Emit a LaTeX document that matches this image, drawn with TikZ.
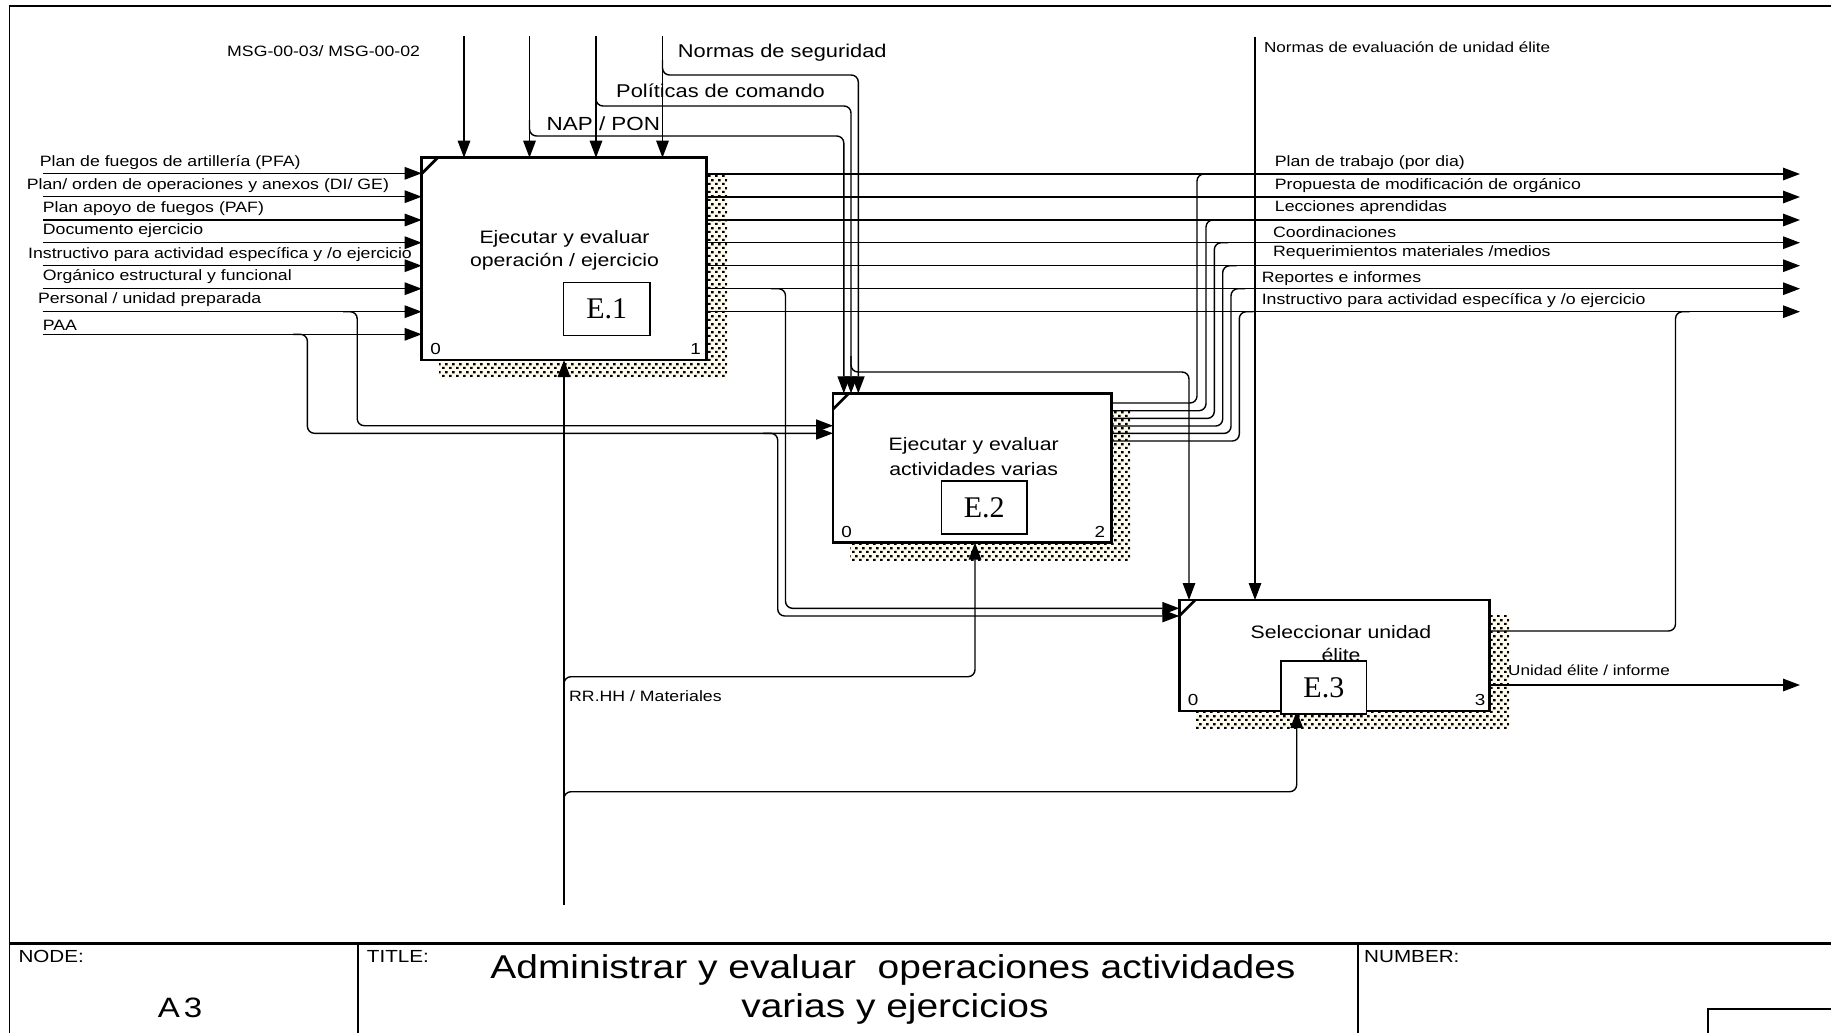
\documentclass[tikz,border=0pt]{standalone}
\usepackage{fontspec}
\setmainfont{Liberation Sans}[FakeStretch=1.18]
\newfontfamily\refserif{Liberation Serif}
\usetikzlibrary{arrows.meta,patterns}
\newcommand\fsz[1]{\fontsize{#1}{#1}\selectfont}
\definecolor{shadebg}{RGB}{255,251,236}
% checkered dot fill used for the box shadows
\pgfdeclarepatternformonly{idefdots}{\pgfqpoint{0pt}{0pt}}{\pgfqpoint{6.5pt}{8pt}}{\pgfqpoint{6.5pt}{8pt}}{%
  \pgfpathrectangle{\pgfqpoint{0pt}{0pt}}{\pgfqpoint{2.7pt}{2.5pt}}%
  \pgfpathrectangle{\pgfqpoint{3.25pt}{4pt}}{\pgfqpoint{2.7pt}{2.5pt}}%
  \pgfusepath{fill}}
\tikzset{
  actbox/.style={draw, line width=2.7pt, fill=white, inner sep=0pt, outer sep=0pt},
  refbox/.style={draw, line width=1.5pt, fill=white, inner sep=0pt, font=\refserif\fsz{30}},
  flow/.style={line width=1.4pt},
  headtip/.style={-{Triangle[length=17pt,width=12.5pt]}},
  roundbend/.style={rounded corners=7pt},
  shadowstrip/.style={fill=shadebg, postaction={pattern=idefdots}},
  lab/.style={inner sep=0pt, anchor=base west, font=\fsz{15}},
  biglab/.style={inner sep=0pt, anchor=base west, font=\fsz{18.5}},
  boxtxt/.style={inner sep=0pt, anchor=base, font=\fsz{18}},
  numtxt/.style={inner sep=0pt, anchor=base, font=\fsz{16}},
  frameline/.style={line width=1.5pt},
}
\begin{document}
\begin{tikzpicture}[x=1pt,y=-1pt]
\useasboundingbox (0,0) rectangle (1831,1033);
\clip (0,0) rectangle (1831,1033);

% ---------- sheet frame and title block ----------
\draw[frameline] (9.3,1040) -- (9.3,6) -- (1840,6);
\draw[line width=2.5pt] (9.3,943.5) -- (1840,943.5);
\draw[frameline] (358,943.5) -- (358,1040);
\draw[frameline] (1358,943.5) -- (1358,1040);
\draw[line width=2pt] (1708,1040) -- (1708,1009) -- (1840,1009);

\node[lab, font=\fsz{17.5}] (nodelbl) at (18.3,962.7) {NODE:};
\node[inner sep=0pt, anchor=base, font=\fsz{28}] (nodeval) at (180,1017.3) {A\kern4pt 3};
\node[lab, font=\fsz{17.5}] (titlelbl) at (366.7,962.7) {TITLE:};
\node[inner sep=0pt, anchor=base, font=\fsz{33}] (title1) at (893,978) {Administrar y evaluar\ \ operaciones actividades};
\node[inner sep=0pt, anchor=base, font=\fsz{33}] (title2) at (895,1017) {varias y ejercicios};
\node[lab, font=\fsz{17.5}] (numlbl) at (1364,962.7) {NUMBER:};

% ---------- shadows ----------
\path[shadowstrip] (439,173) rectangle (727,378);
\path[shadowstrip] (850,410) rectangle (1130,560);
\path[shadowstrip] (1196,615) rectangle (1509,728);

% ---------- activity boxes ----------
\node[actbox, minimum width=285, minimum height=202.3] (b1) at (564.2,258.85) {};
\node[actbox, minimum width=278.3, minimum height=149.4] (b2) at (972.15,468) {};
\node[actbox, minimum width=310.4, minimum height=111] (b3) at (1334.5,655.5) {};
\foreach \b in {b1,b2,b3}
  \draw[line width=2.7pt] ([shift={(0,16)}]\b.north west) -- ([shift={(16,0)}]\b.north west);

% ---------- controls ----------
\coordinate (msg) at (464,36);
\coordinate (nap) at (529.5,36);
\coordinate (pol) at (596,36);
\coordinate (nor) at (662.5,36);
\coordinate (eva) at (1255,36.7);
\foreach \c in {msg,nap,pol,nor}
  \draw[flow, headtip] (\c) -- (\c |- b1.north);
\draw[flow, headtip] (eva) -- (eva |- b3.north);

\coordinate (napj) at (529.5,120);
\coordinate (napk) at (843.8,136);
\draw[flow, roundbend, headtip] (napj) |- (napk) -- (napk |- b2.north);
\coordinate (polj) at (596,90);
\coordinate (polk) at (851,106);
\draw[flow, roundbend, headtip] (polj) |- (polk) -- (polk |- b2.north);
\coordinate (norj) at (662.5,60);
\coordinate (nork) at (858.3,75);
\draw[flow, roundbend, headtip] (norj) |- (nork) -- (nork |- b2.north);
\coordinate (polj2) at (851,356);
\coordinate (polk2) at (1189,372);
\draw[flow, roundbend, headtip] (polj2) |- (polk2) -- (polk2 |- b3.north);

% ---------- inputs of E.1 ----------
\foreach \y/\n in {173.3/i1,196.7/i2,220/i3,242.7/i4,265.7/i5,288.7/i6,311.7/i7,334.3/i8}{
  \coordinate (\n) at (42.7,\y);
  \draw[flow, headtip] (\n) -- (\n -| b1.west);
}
\node[lab] (li1) at (39.7,166) {Plan de fuegos de artillería (PFA)};
\node[lab] (li2) at (26.7,189) {Plan/ orden de operaciones y anexos (DI/ GE)};
\node[lab] (li3) at (42.7,212.5) {Plan apoyo de fuegos (PAF)};
\node[lab] (li4) at (42.7,234.5) {Documento ejercicio};
\node[lab] (li5) at (28,258) {Instructivo para actividad específica y /o ejercicio};
\node[lab] (li6) at (42.7,280.5) {Orgánico estructural y funcional};
\node[lab] (li7) at (37.8,303) {Personal / unidad preparada};
\node[lab] (li8) at (42.7,330) {PAA};

% inputs of E.2 (split from E.1 inputs)
\coordinate (pj) at (343,311.7);
\coordinate (pk) at (357.2,425.7);
\draw[flow, roundbend, headtip] (pj) -| (pk) -- (pk -| b2.west);
\coordinate (aj) at (293,334.3);
\coordinate (ak) at (307.4,433.3);
\draw[flow, roundbend, headtip] (aj) -| (ak) -- (ak -| b2.west);

% inputs of E.3
\coordinate (aj2) at (763,433.3);
\coordinate (ak2) at (777.7,616);
\draw[flow, roundbend, headtip] (aj2) -| (ak2) -- (ak2 -| b3.west);
\coordinate (rj) at (771,288.7);
\coordinate (rk) at (785.5,608.3);
\draw[flow, roundbend, headtip] (rj) -| (rk) -- (rk -| b3.west);

% ---------- outputs ----------
\foreach \y/\n in {174/o1,197/o2,220/o3,242.7/o4,265.7/o5,288.7/o6,311.7/o7}{
  \coordinate (\n) at (1800,\y);
  \draw[flow, headtip] (\n -| b1.east) -- (\n);
}
\node[lab] (lo1) at (1274.7,166) {Plan de trabajo (por dia)};
\node[lab] (lo2) at (1274.7,189.5) {Propuesta de modificación de orgánico};
\node[lab] (lo3) at (1274.7,211) {Lecciones aprendidas};
\node[lab] (lo4) at (1273,237) {Coordinaciones};
\node[lab] (lo5) at (1273,256) {Requerimientos materiales /medios};
\node[lab] (lo6) at (1261.6,282) {Reportes e informes};
\node[lab] (lo7) at (1261.6,304) {Instructivo para actividad específica y /o ejercicio};

% outputs of E.2 joining the output lines
\foreach \y/\vx/\t in {403/1197/o1, 410.7/1206/o3, 418.4/1214.3/o4, 426/1222.7/o5, 433.4/1231/o6, 441/1239.3/o7}{
  \coordinate (s) at (\vx,\y);
  \draw[flow, roundbend] (s -| b2.east) -| (s |- \t) -- ([shift={(14,0)}]s |- \t);
}

% outputs of E.3
\coordinate (u1) at (1675.5,631);
\draw[flow, roundbend] (u1 -| b3.east) -| (u1 |- o7) -- ([shift={(14,0)}]u1 |- o7);
\coordinate (u2) at (1800,685);
\draw[flow, headtip] (u2 -| b3.east) -- (u2);
\node[lab, font=\fsz{14.5}] (lu2) at (1508,675) {Unidad élite / informe};

% ---------- mechanisms ----------
\coordinate (rr) at (564,905);
\draw[flow, headtip] (rr) -- (rr |- b1.south);
\coordinate (mj) at (564,692);
\coordinate (mk) at (975,676.7);
\draw[flow, roundbend, headtip] (mj) |- (mk) -- (mk |- b2.south);
\coordinate (mj2) at (564,806);
\coordinate (mk2) at (1296.7,791.7);
\draw[flow, roundbend, headtip] (mj2) |- (mk2) -- (mk2 |- b3.south);
\node[lab] (lrr) at (569,701) {RR.HH / Materiales};

% ---------- control labels ----------
\node[lab] (lmsg) at (227,56.7) {MSG-00-03/ MSG-00-02};
\node[biglab, font=\fsz{19}] (lnap) at (546.5,130) {NAP / PON};
\node[biglab] (lpol) at (616,97) {Políticas de comando};
\node[biglab] (lnor) at (677.7,58) {Normas de seguridad};
\node[lab, font=\fsz{14.5}] (leva) at (1263.8,53) {Normas de evaluación de unidad élite};

% ---------- box texts ----------
\node[boxtxt] (t1a) at (564.5,243) {Ejecutar y evaluar};
\node[boxtxt] (t1b) at (564.5,266) {operación / ejercicio};
\node[refbox, minimum width=86.1, minimum height=53] (e1) at (606.75,309.2) {E.1};
\node[numtxt] (n1a) at (435.5,354) {0};
\node[numtxt] (n1b) at (695.7,354) {1};

\node[boxtxt] (t2a) at (973.7,450) {Ejecutar y evaluar};
\node[boxtxt] (t2b) at (973.7,475) {actividades varias};
\node[refbox, minimum width=85.7, minimum height=53] (e2) at (984.25,507.5) {E.2};
\node[numtxt] (n2a) at (846.5,537) {0};
\node[numtxt] (n2b) at (1099.8,537) {2};

\node[boxtxt] (t3a) at (1341,638) {Seleccionar unidad};
\node[boxtxt] (t3b) at (1341,661) {élite};
\node[refbox, minimum width=85.7, minimum height=53] (e3) at (1323.85,687.5) {E.3};
\node[numtxt] (n3a) at (1193,705) {0};
\node[numtxt] (n3b) at (1480,705) {3};
\end{tikzpicture}
\end{document}
